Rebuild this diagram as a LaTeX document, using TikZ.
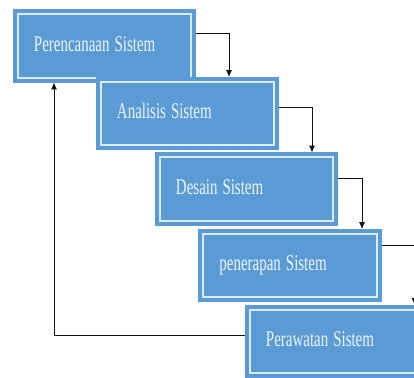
\documentclass[tikz,border=0pt]{standalone}
\usepackage{fontspec}
\setmainfont{Liberation Serif}
\usetikzlibrary{positioning,arrows.meta}
\definecolor{biru}{HTML}{5B9BD5}
\definecolor{birumuda}{HTML}{DCEBF8}
\definecolor{teks}{HTML}{EEF4FA}
\definecolor{garis}{HTML}{111111}
\newcommand{\sempit}[1]{\scalebox{0.665}[1]{#1}}
\tikzset{
  tahap/.style={draw=birumuda, line width=0.05cm, fill=biru,
                preaction={draw=biru, line width=0.25cm},
                minimum width=4.325cm, minimum height=1.575cm, inner xsep=0.4cm,
                text width=3.525cm, align=left, text=teks,
                font=\fontsize{16}{18}\selectfont, text height=0.4cm, text depth=0.15cm,
                outer sep=0.125cm},
  alir/.style={-{Latex[length=1.7mm,width=1.5mm]}, line width=0.6pt, draw=garis},
}

\begin{document}
\begin{tikzpicture}[x=0.025cm, y=-0.025cm]
  \useasboundingbox (0,0) rectangle (414,377);
  \fill[white] (0,0) rectangle (414,377);
  \clip (0,0) rectangle (414,377);
  % ---- tahapan ----
  \node[tahap] (renc)   at (104.5,46)  {\sempit{Perencanaan Sistem}};
  \node[tahap] (anal)   at (187.5,113.5) {\sempit{Analisis Sistem}};
  \node[tahap] (desain) at (246.5,189) {\sempit{Desain Sistem}};
  \node[tahap] (terap)  at (290,265.5) {\sempit{penerapan Sistem}};
  \node[tahap] (rawat)  at (336.5,341.5) {\sempit{Perawatan Sistem}};
  % ---- alur ----
  \draw[alir] ([yshift=0.325cm]renc.east) -| ([xshift=1.0375cm]anal.north);
  \draw[alir] ([yshift=0.1625cm]anal.east) -| ([xshift=1.6375cm]desain.north);
  \draw[alir] ([yshift=0.275cm]desain.east) -| ([xshift=1.8cm]terap.north);
  \draw[alir] ([yshift=0.5125cm]terap.east) -| ([xshift=1.95cm]rawat.north);
  \draw[alir] ([yshift=0.1625cm]rawat.west) -| ([xshift=-1.2625cm]renc.south);
\end{tikzpicture}
\end{document}
